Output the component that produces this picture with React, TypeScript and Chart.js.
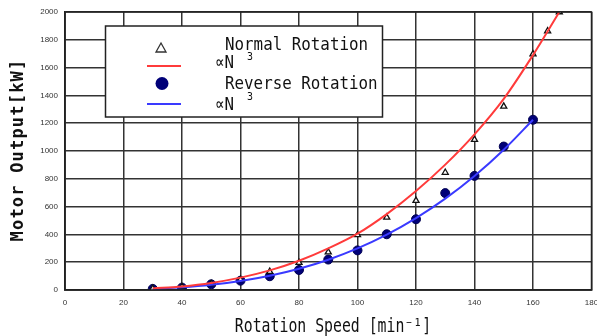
import React, { useEffect, useRef } from "react";
import { Chart, registerables } from "chart.js";

Chart.register(...registerables);

// Measured points
const normalSpeed = [30, 40, 50, 60, 70, 80, 90, 100, 110, 120, 130, 140, 150, 160, 165, 169];
const normalOutput = [10, 22, 45, 75, 132, 197, 273, 396, 523, 643, 845, 1082, 1321, 1697, 1863, 2000];
const reverseSpeed = [30, 40, 50, 60, 70, 80, 90, 100, 110, 120, 130, 140, 150, 160];
const reverseOutput = [8, 17, 41, 67, 99, 144, 219, 285, 401, 509, 697, 821, 1032, 1225];

// ∝N³ curves
const normalCurveSpeed = [30, 40, 50, 60, 70, 80, 90, 100, 110, 120, 130, 140, 150, 160, 169];
const normalCurve = [11, 26, 51, 89, 141, 210, 299, 405, 546, 712, 902, 1120, 1375, 1690, 2000];
const reverseCurveSpeed = [30, 40, 50, 60, 70, 80, 90, 100, 110, 120, 130, 140, 150, 160];
const reverseCurve = [8, 19, 37, 65, 103, 153, 218, 299, 398, 517, 657, 820, 1009, 1225];

const xTicks = [0, 20, 40, 60, 80, 100, 120, 140, 160, 180];
const yTicks = [0, 200, 400, 600, 800, 1000, 1200, 1400, 1600, 1800, 2000];

const legendLabels = ["Normal Rotation", "∝N", "Reverse Rotation", "∝N"];
const superscript = "3";
const xTitle = "Rotation Speed [min⁻¹]";
const yTitle = "Motor Output[kW]";

const RED = "#ff3b3b";
const BLUE = "#3a3aff";
const NAVY = "#000078";

function pts(xs: number[], ys: number[]) {
  return xs.map((x, i) => ({ x, y: ys[i] }));
}

const overlay = {
  id: "overlay",
  afterDraw(chart: any) {
    const ctx = chart.ctx as CanvasRenderingContext2D;
    ctx.save();
    // Legend box
    const bx = 105.5, by = 26, bw = 277, bh = 91;
    ctx.fillStyle = "#fff";
    ctx.fillRect(bx, by, bw, bh);
    ctx.strokeStyle = "#222";
    ctx.lineWidth = 1.5;
    ctx.strokeRect(bx, by, bw, bh);

    // triangle symbol
    ctx.beginPath();
    ctx.moveTo(161, 43);
    ctx.lineTo(166, 52);
    ctx.lineTo(156, 52);
    ctx.closePath();
    ctx.strokeStyle = "#333";
    ctx.lineWidth = 1.3;
    ctx.stroke();
    // red line
    ctx.beginPath();
    ctx.moveTo(147, 66);
    ctx.lineTo(181, 66);
    ctx.strokeStyle = RED;
    ctx.lineWidth = 2;
    ctx.stroke();
    // navy circle
    ctx.beginPath();
    ctx.arc(162, 83.5, 6.5, 0, Math.PI * 2);
    ctx.fillStyle = NAVY;
    ctx.fill();
    // blue line
    ctx.beginPath();
    ctx.moveTo(147, 104);
    ctx.lineTo(181, 104);
    ctx.strokeStyle = BLUE;
    ctx.lineWidth = 2;
    ctx.stroke();

    const drawScaled = (t: string, x: number, y: number, font: string, sx: number) => {
      ctx.save();
      ctx.translate(x, y);
      ctx.scale(sx, 1);
      ctx.font = font;
      ctx.fillText(t, 0, 0);
      ctx.restore();
    };
    ctx.fillStyle = "#111";
    ctx.textBaseline = "alphabetic";
    ctx.textAlign = "left";
    const lf = "18px 'DejaVu Sans Mono'";
    drawScaled(legendLabels[0], 225, 50, lf, 0.88);
    drawScaled(legendLabels[1], 215, 68, lf, 0.88);
    drawScaled(superscript, 247, 60, "11px 'DejaVu Sans Mono'", 0.9);
    drawScaled(legendLabels[2], 225, 88.5, lf, 0.88);
    drawScaled(legendLabels[3], 215, 110, lf, 0.88);
    drawScaled(superscript, 247, 100, "11px 'DejaVu Sans Mono'", 0.9);

    // X title
    ctx.save();
    ctx.font = "19px 'DejaVu Sans Mono'";
    const w = ctx.measureText(xTitle).width * 0.78;
    ctx.restore();
    drawScaled(xTitle, 333 - w / 2, 332, "19px 'DejaVu Sans Mono'", 0.78);

    // Y title
    ctx.save();
    ctx.translate(23, 150);
    ctx.rotate(-Math.PI / 2);
    ctx.font = "bold 17px 'DejaVu Sans Mono'";
    (ctx as any).letterSpacing = "1.2px";
    ctx.textAlign = "center";
    ctx.fillStyle = "#111";
    ctx.fillText(yTitle, 0, 0);
    ctx.restore();

    ctx.restore();
  },
};

export default function App() {
  const ref = useRef<HTMLCanvasElement>(null);
  useEffect(() => {
    if (!ref.current) return;
    const chart = new Chart(ref.current, {
      type: "scatter",
      data: {
        datasets: [
          {
            label: "∝N3 normal",
            data: pts(normalCurveSpeed, normalCurve),
            showLine: true,
            borderColor: RED,
            borderWidth: 2,
            pointRadius: 0,
            cubicInterpolationMode: "monotone",
          } as any,
          {
            label: "∝N3 reverse",
            data: pts(reverseCurveSpeed, reverseCurve),
            showLine: true,
            borderColor: BLUE,
            borderWidth: 2,
            pointRadius: 0,
            cubicInterpolationMode: "monotone",
          } as any,
          {
            label: "Normal Rotation",
            data: pts(normalSpeed, normalOutput),
            pointStyle: "triangle",
            pointRadius: 3.5,
            borderColor: "#111",
            backgroundColor: "#fff",
            borderWidth: 1.3,
          },
          {
            label: "Reverse Rotation",
            data: pts(reverseSpeed, reverseOutput),
            pointStyle: "circle",
            pointRadius: 4.5,
            borderColor: "#000050",
            backgroundColor: NAVY,
            borderWidth: 1,
          },
        ],
      },
      options: {
        animation: false,
        responsive: false,
        layout: { padding: { top: 12, right: 5, left: 0, bottom: 0 } },
        plugins: { legend: { display: false }, tooltip: { enabled: false } },
        scales: {
          x: {
            type: "linear",
            min: 0,
            max: 180,
            afterBuildTicks: (s: any) => {
              s.ticks = xTicks.map((v) => ({ value: v }));
            },
            afterFit: (s: any) => {
              s.height = 46;
              s.paddingRight = 0;
              s.paddingLeft = 0;
            },
            grid: { color: "#333", lineWidth: 1.5, drawTicks: false },
            border: { color: "#222", width: 1.5 },
            ticks: {
              padding: 8,
              color: "#333",
              font: { size: 8, family: "'Liberation Sans'" },
              maxRotation: 0,
              callback: (v: any) => String(v),
            },
          },
          y: {
            min: 0,
            max: 2000,
            afterBuildTicks: (s: any) => {
              s.ticks = yTicks.map((v) => ({ value: v }));
            },
            afterFit: (s: any) => {
              s.width = 65;
            },
            grid: { color: "#333", lineWidth: 1.5, drawTicks: false },
            border: { color: "#222", width: 1.5 },
            ticks: {
              padding: 7,
              color: "#333",
              font: { size: 8, family: "'Liberation Sans'" },
              callback: (v: any) => String(v),
            },
          },
        },
      },
      plugins: [
        overlay,
        {
          id: "frame",
          afterDatasetsDraw(chart: any) {
            const { ctx, chartArea: a } = chart;
            ctx.save();
            ctx.strokeStyle = "#222";
            ctx.lineWidth = 1.5;
            ctx.strokeRect(a.left, a.top, a.right - a.left, a.bottom - a.top);
            ctx.restore();
          },
        },
      ],
    });
    return () => chart.destroy();
  }, []);
  return (
    <div style={{ position: "fixed", left: 0, top: 0, width: 597, height: 336, background: "#fff" }}>
      <canvas ref={ref} width={597} height={336} style={{ display: "block" }} />
    </div>
  );
}
